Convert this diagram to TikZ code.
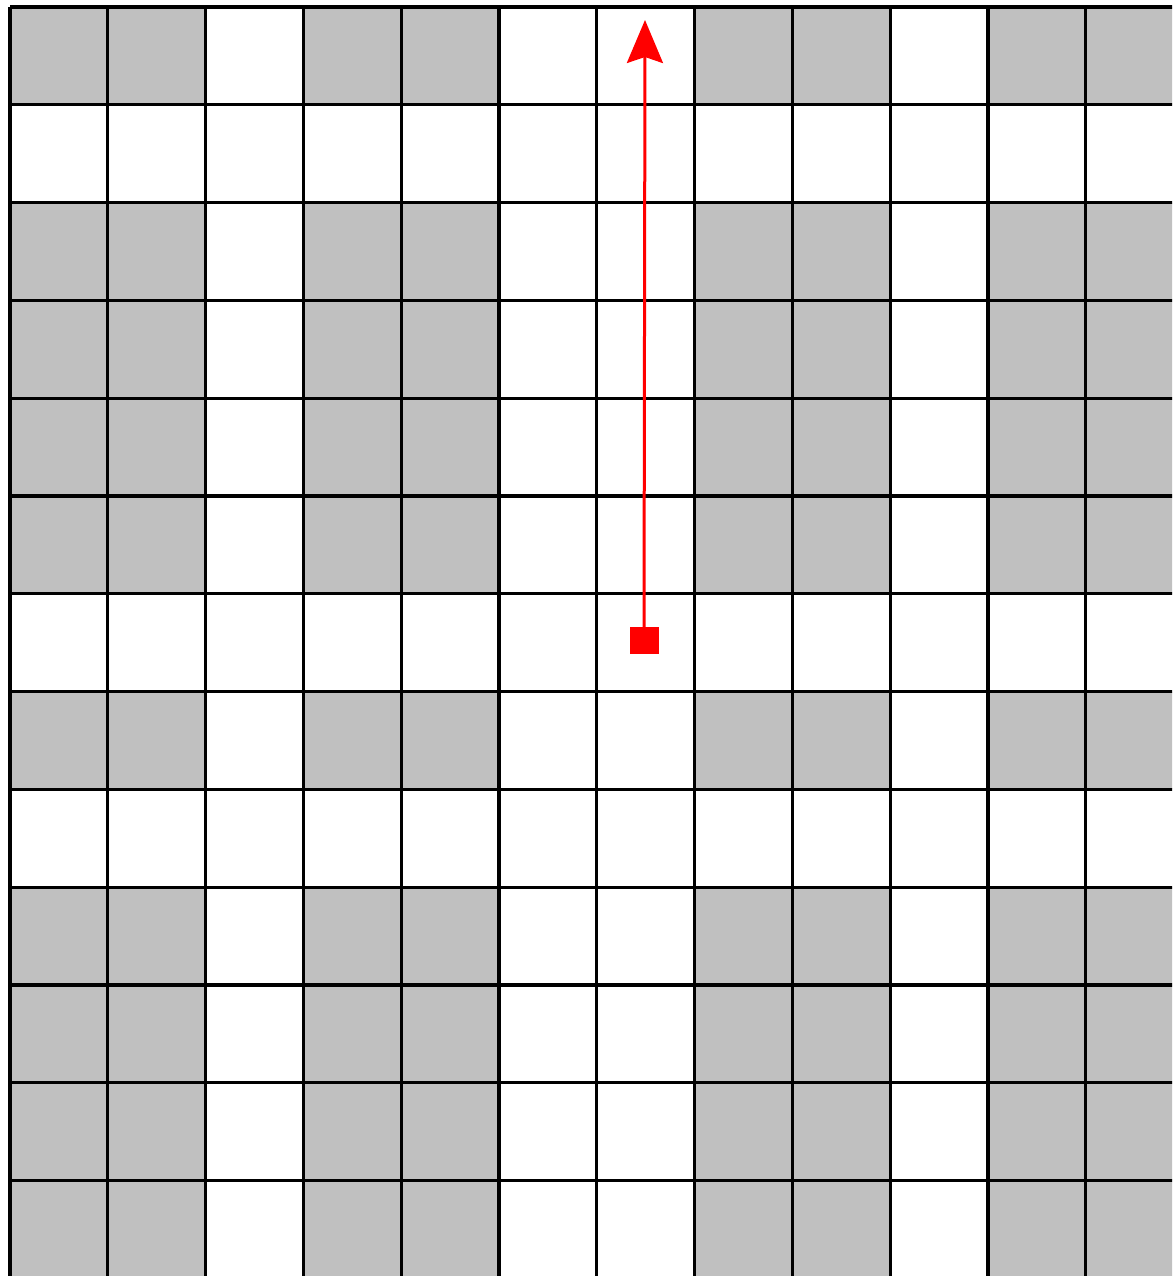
\documentclass[tikz,border=0pt]{standalone}
\usetikzlibrary{arrows.meta}
\definecolor{cellgray}{RGB}{192,192,192}
\definecolor{arrowred}{RGB}{255,0,0}
\tikzset{
  gridline/.style={line width=3.2pt, black},
  graycell/.style={fill=cellgray},
  redpath/.style={draw=arrowred, line width=3pt, -{Stealth[length=43pt,width=36pt,inset=6pt]}},
  startsq/.style={fill=arrowred, draw=none, minimum width=29pt, minimum height=27pt, inner sep=0pt}
}
\begin{document}
\begin{tikzpicture}[x=1pt,y=-1pt]
\useasboundingbox (0,0) rectangle (1172,1276);
\fill[white] (0,0) rectangle (1172,1276);
\begin{scope}
\clip (0,0) rectangle (1172,1276);
% gray cells
\foreach \c in {0,1,3,4,7,8,10,11} {
  \foreach \r in {0,2,3,4,5,7,9,10,11,12} {
    \fill[graycell] ({10+97.8*\c},{7+97.8*\r}) rectangle ({10+97.8*(\c+1)},{7+97.8*(\r+1)});
  }
}
% grid lines
\foreach \c in {0,...,12} {
  \draw[gridline] ({10+97.8*\c},{7}) -- ({10+97.8*\c},{1290});
}
\foreach \r in {0,...,13} {
  \draw[gridline] ({10},{7+97.8*\r}) -- ({1190},{7+97.8*\r});
}
\end{scope}
% red arrow
\node[startsq] (start) at (644,640) {};
\coordinate (tip) at (645,20);
\draw[redpath] (start.center) -- (tip);
\end{tikzpicture}
\end{document}
